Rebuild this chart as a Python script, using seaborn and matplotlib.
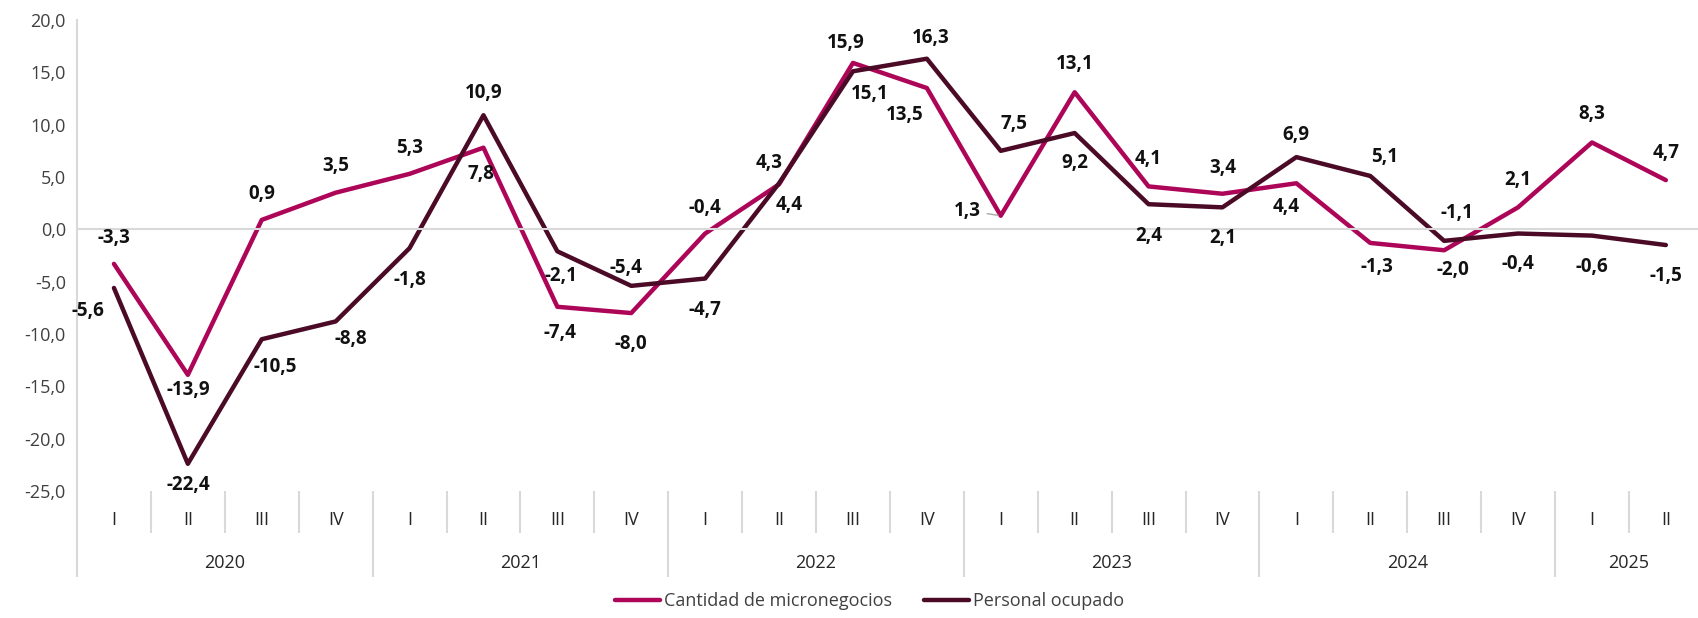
import pandas as pd
import seaborn as sns
import matplotlib.pyplot as plt
from matplotlib.lines import Line2D

years = ['2020', '2021', '2022', '2023', '2024', '2025']
quarters = ['I', 'II', 'III', 'IV'] * 5 + ['I', 'II']

micronegocios = [-3.3, -13.9, 0.9, 3.5, 5.3, 7.8, -7.4, -8.0, -0.4, 4.3, 15.9,
                 13.5, 1.3, 13.1, 4.1, 3.4, 4.4, -1.3, -2.0, 2.1, 8.3, 4.7]
personal = [-5.6, -22.4, -10.5, -8.8, -1.8, 10.9, -2.1, -5.4, -4.7, 4.4, 15.1,
            16.3, 7.5, 9.2, 2.4, 2.1, 6.9, 5.1, -1.1, -0.4, -0.6, -1.5]

series_names = ['Cantidad de micronegocios', 'Personal ocupado']
colors = ['#AD0558', '#4B0A26']

# label offsets in pixels (dx, dy up)
off_m = [(0, 26), (0, -15), (0, 26), (0, 27), (0, 26), (-3, -26), (3, -26), (0, -31),
         (0, 26), (-10, 21), (-7, 20), (-22, -27), (-33, 5), (0, 28), (0, 27), (0, 26),
         (-10, -24), (7, -24), (9, -20), (0, 27), (0, 28), (0, 27)]
off_p = [(-26, -23), (0, -21), (14, -28), (15, -18), (0, -32), (0, 22), (4, -25), (-5, 18),
         (0, -31), (10, -22), (17, -23), (4, 21), (13, 27), (0, -30), (0, -32), (0, -31),
         (0, 22), (14, 19), (13, 28), (0, -30), (0, -31), (0, -31)]

DPI = 100
rows = []
for name, vals in zip(series_names, [micronegocios, personal]):
    for i, v in enumerate(vals):
        rows.append((i, v, name))
df = pd.DataFrame(rows, columns=['t', 'valor', 'serie'])

sns.set_style('white')
plt.rcParams['font.family'] = ['Open Sans', 'DejaVu Sans']

fig = plt.figure(figsize=(16.98, 6.18), dpi=DPI)
ax = fig.add_axes([77 / 1698, 1 - 491 / 618, 22 * 73.9 / 1698, 471 / 618])

sns.lineplot(data=df, x='t', y='valor', hue='serie', palette=colors,
             linewidth=3.2, ax=ax, legend=False)

fmt = lambda v: f'{v:.1f}'.replace('.', ',')
for vals, offs in [(micronegocios, off_m), (personal, off_p)]:
    for i, (v, (dx, dy)) in enumerate(zip(vals, offs)):
        kw = {}
        if vals is micronegocios and i == 12:
            kw['arrowprops'] = dict(arrowstyle='-', color='#A6A6A6', lw=1,
                                    shrinkA=2, shrinkB=2)
        ax.annotate(fmt(v), (i, v), xytext=(dx * 72 / DPI, dy * 72 / DPI),
                    textcoords='offset points', ha='center', va='center',
                    fontsize=13.5, fontweight='bold', color='#111111', **kw)

ax.set_xlim(-0.5, 21.5)
ax.set_ylim(-25, 20)
ax.set_yticks(range(-25, 21, 5))
ax.set_yticklabels([fmt(t) for t in range(-25, 21, 5)], fontsize=13, color='#404040')
ax.set_xticks([i + 0.5 for i in range(21)])
ax.set_xticklabels([])
ax.set_xlabel('')
ax.set_ylabel('')

grey = '#D9D9D9'
for s in ['top', 'right']:
    ax.spines[s].set_visible(False)
ax.spines['left'].set_color(grey)
ax.spines['left'].set_linewidth(1.5)
ax.spines['bottom'].set_position(('data', 0))
ax.spines['bottom'].set_color(grey)
ax.spines['bottom'].set_linewidth(1.5)
ax.tick_params(axis='y', length=5, color=grey, width=1.2, pad=3)
ax.tick_params(axis='x', length=6, color=grey, width=1.2, direction='out')

# category table below the plot
tr = ax.get_xaxis_transform()
for i, q in enumerate(quarters):
    ax.text(i, -0.0616, q, transform=tr, ha='center', va='center',
            fontsize=13, color='#262626')
year_bounds = [-0.5, 3.5, 7.5, 11.5, 15.5, 19.5, 21.5]
quarter_bounds = [i + 0.5 for i in range(21) if i + 0.5 not in year_bounds]
ax.vlines(quarter_bounds, -0.089, 0, transform=tr, colors=grey, lw=1.5, clip_on=False)
ax.vlines(year_bounds, -0.183, 0, transform=tr, colors=grey, lw=1.5, clip_on=False)
for y, a, b in zip(years, year_bounds[:-1], year_bounds[1:]):
    ax.text((a + b) / 2, -0.153, y, transform=tr, ha='center', va='center',
            fontsize=13, color='#262626')

handles = [Line2D([], [], color=c, lw=3.2) for c in colors]
fig.legend(handles, series_names, loc='lower center', bbox_to_anchor=(0.512, -0.014),
           ncol=2, frameon=False, fontsize=13, handlelength=2.5, handletextpad=0.2,
           columnspacing=1.8, labelcolor='#404040')

fig.savefig('out.png', dpi=DPI)
